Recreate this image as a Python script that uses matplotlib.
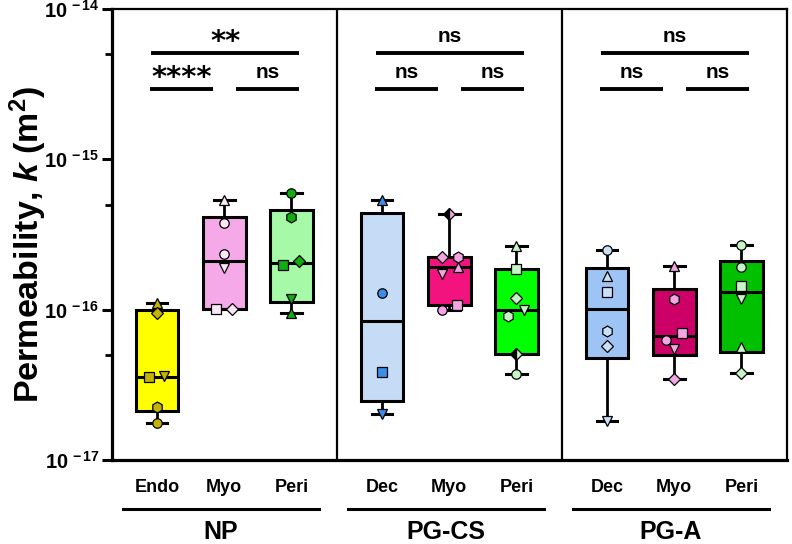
import numpy as np
import matplotlib
matplotlib.use('Agg')
import matplotlib.pyplot as plt
from matplotlib.transforms import blended_transform_factory
from matplotlib.ticker import FixedLocator, FuncFormatter, NullFormatter

# ---------------- data (permeability, units of 1e-16 m^2) ----------------
SCALE = 1e-16
panels = ['NP', 'PG-CS', 'PG-A']
tissues = [['Endo', 'Myo', 'Peri'], ['Dec', 'Myo', 'Peri'], ['Dec', 'Myo', 'Peri']]

np_endo = [1.10, 0.95, 0.355, 0.362, 0.225, 0.175]
np_myo = [5.37, 3.76, 2.33, 1.88, 1.01, 1.01]
np_peri = [5.94, 4.12, 2.11, 1.99, 1.17, 0.955]
cs_dec = [5.40, 1.30, 0.382, 0.201]
cs_myo = [4.34, 2.25, 2.25, 1.92, 1.73, 1.07, 1.00]
cs_peri = [2.65, 1.86, 1.19, 1.00, 0.91, 0.51, 0.371]
a_dec = [2.49, 1.68, 1.31, 0.72, 0.576, 0.182]
a_myo = [1.95, 1.18, 0.703, 0.629, 0.547, 0.344]
a_peri = [2.69, 1.93, 1.44, 1.17, 0.567, 0.381]

sig_top = ['**', 'ns', 'ns']
sig_left = ['****', 'ns', 'ns']
sig_right = ['ns', 'ns', 'ns']

ytick_exponents = [-17, -16, -15, -14]

# ---------------- styles ----------------
series = [np_endo, np_myo, np_peri, cs_dec, cs_myo, cs_peri, a_dec, a_myo, a_peri]
box_fill = ['#FFFF00', '#F5A9E9', '#A6F9A6',
            '#C6DBF5', '#F2137E', '#00FF00',
            '#9EC4F5', '#CC0066', '#00C000']
pt_color = ['#C4B300', '#FBE6F7', '#10AC10',
            '#3A8EE8', '#F5A3E3', '#C8F2C8',
            '#C9E1F7', '#F2A6E2', '#C8F5C8']
markers = [['^', 'D', 's', 'v', 'h', 'o'],
           ['^', 'o', 'o', 'v', 's', 'D'],
           ['o', 'h', 'D', 's', 'v', '^'],
           ['^', 'o', 's', 'v'],
           ['Dh', 'D', 'h', '^', 'v', 's', 'o'],
           ['^', 's', 'D', 'v', 'h', 'Dh', 'o'],
           ['o', '^', 's', 'h', 'D', 'v'],
           ['^', 'h', 's', 'o', 'v', 'D'],
           ['o', 'o', 's', 'v', '^', 'D']]
offsets = [[0, 0, -0.12, 0.11, 0, 0],
           [0, 0, 0, 0, -0.12, 0.12],
           [0, 0, 0.11, -0.12, 0, 0],
           [0, 0, 0, 0],
           [0, -0.11, 0.13, 0.13, -0.11, 0.12, -0.11],
           [0, 0, 0, 0.12, -0.12, 0, 0],
           [0, 0, 0, 0, 0, 0],
           [0, 0, 0.12, -0.12, 0, 0],
           [0, 0, 0, 0, 0, 0]]

PANEL_W = 3.35
positions = [i * PANEL_W + 0.67 + j for i in range(3) for j in range(3)]

plt.rcParams['font.family'] = ['Liberation Sans', 'DejaVu Sans']
plt.rcParams['font.weight'] = 'bold'
plt.rcParams['mathtext.fontset'] = 'custom'
plt.rcParams['mathtext.rm'] = 'Liberation Sans:bold'
plt.rcParams['mathtext.bf'] = 'Liberation Sans:bold'
plt.rcParams['mathtext.it'] = 'Liberation Sans:italic:bold'
plt.rcParams['mathtext.default'] = 'rm'

fig = plt.figure(figsize=(7.92, 5.44), dpi=100)
ax = fig.add_axes([112 / 792, 84 / 544, 675 / 792, 451 / 544])


def box_stats(v):
    a = np.asarray(v) * SCALE
    q1, med, q3 = np.percentile(a, [25, 50, 75], method='weibull')
    return dict(med=med, q1=q1, q3=q3, whislo=a.min(), whishi=a.max(), fliers=[])


stats = [box_stats(v) for v in series]
bp = ax.bxp(stats, positions=positions, widths=0.64, patch_artist=True,
            showfliers=False, manage_ticks=False, capwidths=0.31,
            boxprops=dict(linewidth=2.2, edgecolor='black'),
            whiskerprops=dict(linewidth=2.0, color='black'),
            capprops=dict(linewidth=2.2, color='black'),
            medianprops=dict(linewidth=2.2, color='black'))
for patch, c in zip(bp['boxes'], box_fill):
    patch.set_facecolor(c)
    patch.set_zorder(2)
for k in ('whiskers', 'caps', 'medians'):
    for ln in bp[k]:
        ln.set_zorder(3)

for vals, ms_list, offs, pos, col in zip(series, markers, offsets, positions, pt_color):
    for v, m, o in zip(vals, ms_list, offs):
        kw = dict(ls='none', mec='black', mew=0.9, zorder=5, clip_on=False)
        size = 6.8
        if m == 'Dh':
            m = 'D'
            kw.update(fillstyle='left', mfc='black', markerfacecoloralt=col)
        else:
            kw.update(mfc=col)
        if m == 'D':
            size = 6.0
        elif m in ('^', 'v'):
            size = 7.0
        elif m == 'h':
            size = 7.8
        ax.plot([pos + o], [v * SCALE], marker=m, ms=size, **kw)

# axes
ax.set_yscale('log')
ax.set_ylim(1e-17, 1e-14)
ax.set_xlim(0, 3 * PANEL_W)
ax.yaxis.set_major_locator(FixedLocator([10.0 ** e for e in ytick_exponents]))
ax.yaxis.set_minor_locator(FixedLocator([5 * 10.0 ** e for e in ytick_exponents[:-1]]))
ax.yaxis.set_major_formatter(FuncFormatter(
    lambda v, p: r'$10^{\,%d}$' % int(round(np.log10(v)))))
ax.yaxis.set_minor_formatter(NullFormatter())
ax.tick_params(axis='y', which='major', length=7, width=2.2, labelsize=14.5, pad=2)
ax.tick_params(axis='y', which='minor', length=5, width=2.0)
ax.set_xticks(positions)
ax.set_xticklabels([t for row in tissues for t in row], fontsize=13, fontweight='bold')
ax.tick_params(axis='x', length=0, pad=14)

for s in ('left', 'bottom'):
    ax.spines[s].set_linewidth(2.3)
for s in ('top', 'right'):
    ax.spines[s].set_linewidth(1.6)
for i in (1, 2):
    ax.axvline(i * PANEL_W, color='black', lw=1.6, zorder=1)

ax.set_ylabel(r'Permeability, $\mathit{k}$ (m$^{2}$)', fontsize=24.5, fontweight='bold')
ax.yaxis.label.set_verticalalignment('center')
ax.yaxis.set_label_coords(-0.1244, 0.477)

tr = blended_transform_factory(ax.transData, ax.transAxes)

# group lines and labels
for i, name in enumerate(panels):
    mid = positions[3 * i + 1]
    x0, x1 = mid - 1.51, mid + 1.41
    ax.plot([x0, x1], [-0.1086, -0.1086], color='black', lw=2.2, transform=tr, clip_on=False)
    ax.text((x0 + x1) / 2, -0.175, name, transform=tr, ha='center', va='baseline',
            fontsize=18, fontweight='bold')


# significance bars
def sig_text(x, y_base, s):
    if '*' in s:
        ax.text(x, y_base + 0.007, s, transform=tr, ha='center', va='baseline',
                fontsize=21, fontweight='bold', family='DejaVu Sans')
    else:
        ax.text(x, y_base + 0.025, s, transform=tr, ha='center', va='baseline',
                fontsize=15, fontweight='bold')


Y_UP, Y_LO = 0.9024, 0.8226
for i in range(3):
    p0, p1, p2 = positions[3 * i:3 * i + 3]
    segs = [((p0 - 0.09, p2 + 0.12), Y_UP, sig_top[i]),
            ((p0 - 0.10, p1 - 0.16), Y_LO, sig_left[i]),
            ((p1 + 0.18, p2 + 0.12), Y_LO, sig_right[i])]
    for (a, b), y, s in segs:
        ax.plot([a, b], [y, y], color='black', lw=2.8, transform=tr, clip_on=False,
                solid_capstyle='butt')
        sig_text((a + b) / 2, y, s)

fig.savefig('out.png', dpi=100)
